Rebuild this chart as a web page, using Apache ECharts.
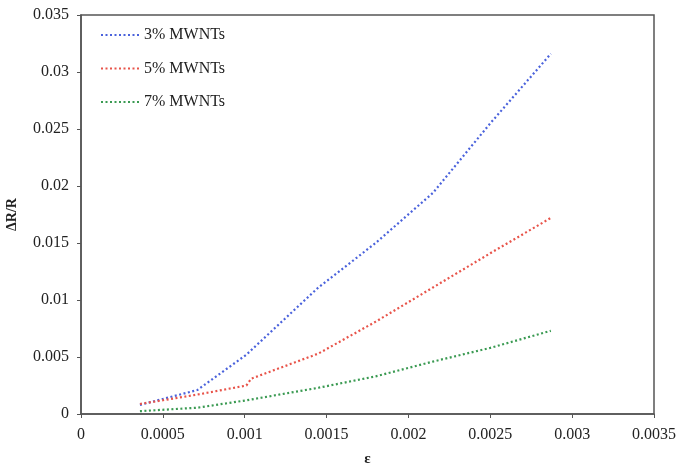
<!DOCTYPE html>
<html><head><meta charset="utf-8">
<script src="https://cdn.jsdelivr.net/npm/echarts@6/dist/echarts.min.js"></script>
<style>html,body{margin:0;padding:0;background:#fff}#c{width:677px;height:467px}</style>
</head><body><div id="c"></div>
<script>
const seriesNames = ['3% MWNTs', '5% MWNTs', '7% MWNTs'];
const mwnt3 = [[0.00036,0.0008],[0.00071,0.0021],[0.00101,0.0052],[0.00145,0.0111],[0.0018,0.0150],[0.00215,0.0194],[0.0025,0.0255],[0.00287,0.0316]];
const mwnt5 = [[0.00036,0.00088],[0.00071,0.0017],[0.00101,0.0025],[0.00104,0.0031],[0.00145,0.0053],[0.0018,0.0081],[0.00215,0.0111],[0.0025,0.0141],[0.00287,0.0172]];
const mwnt7 = [[0.00036,0.00025],[0.00071,0.00055],[0.00101,0.0012],[0.00145,0.0023],[0.0018,0.0033],[0.00215,0.0046],[0.0025,0.0058],[0.00287,0.0073]];
const colors = ['#4a62dc', '#e8544a', '#3a9a52'];
const font = 'Liberation Serif';
const chart = echarts.init(document.getElementById('c'));
function mk(name, data, color){
  return {name, type:'line', data, symbol:'none', smooth:false,
    lineStyle:{color, width:2.2, type:[2,2.5]}, itemStyle:{color}};
}
chart.setOption({
  animation:false,
  grid:{left:81, right:23, top:15, bottom:53, show:true, borderColor:'#555', borderWidth:1.5, outerBoundsMode:'none'},
  legend:{orient:'vertical', left:100, top:27, padding:0, itemGap:17.5, itemWidth:38, itemHeight:14,
    itemStyle:{color:'rgba(0,0,0,0)', borderWidth:0, opacity:0},
    textStyle:{fontFamily:font, fontSize:16, color:'#222'},
    data:seriesNames},
  xAxis:{type:'value', min:0, max:0.0035, interval:0.0005, name:'ε', nameLocation:'middle', nameGap:38,
    nameTextStyle:{fontFamily:font, fontSize:15, fontWeight:'bold', color:'#222'},
    axisLine:{lineStyle:{color:'#555', width:1.5}}, axisTick:{show:true, length:4, lineStyle:{color:'#555'}},
    splitLine:{show:false},
    axisLabel:{fontFamily:font, fontSize:16, color:'#222', margin:13, formatter:v=>v===0?'0':String(+v.toFixed(4))}},
  yAxis:{type:'value', min:0, max:0.035, interval:0.005, name:'ΔR/R', nameLocation:'middle', nameGap:62,
    nameTextStyle:{fontFamily:font, fontSize:14, fontWeight:'bold', color:'#222'},
    axisLine:{show:true, lineStyle:{color:'#555', width:1.5}}, axisTick:{show:true, length:4, lineStyle:{color:'#555'}},
    splitLine:{show:false},
    axisLabel:{fontFamily:font, fontSize:16, color:'#222', margin:12, formatter:v=>v===0?'0':String(+v.toFixed(3))}},
  series:[mk(seriesNames[0], mwnt3, colors[0]), mk(seriesNames[1], mwnt5, colors[1]), mk(seriesNames[2], mwnt7, colors[2])]
});
</script></body></html>
